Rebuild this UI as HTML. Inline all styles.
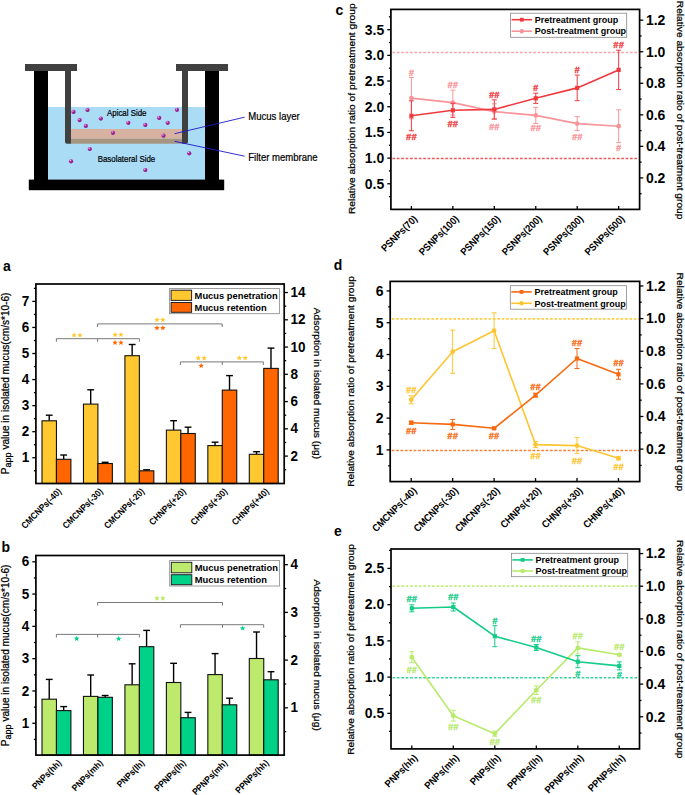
<!DOCTYPE html>
<html><head><meta charset="utf-8"><style>html,body{margin:0;padding:0;background:#fff;}svg{display:block;}text{font-family:"Liberation Sans",sans-serif;}</style></head><body>
<svg width="685" height="795" viewBox="0 0 685 795" font-family="Liberation Sans, sans-serif">
<rect x="0.00" y="0.00" width="685.00" height="795.00" fill="#fff"/>
<rect x="48.00" y="107.00" width="157.00" height="73.00" fill="#aadcf5"/>
<rect x="71.00" y="129.00" width="111.00" height="9.80" fill="#d8b2a1"/>
<rect x="71.00" y="138.80" width="111.00" height="4.90" fill="#a69580"/>
<rect x="34.00" y="71.00" width="14.00" height="109.50" fill="#000"/>
<rect x="205.00" y="71.00" width="14.00" height="109.50" fill="#000"/>
<rect x="28.80" y="179.60" width="195.40" height="10.60" fill="#000"/>
<rect x="25.00" y="64.00" width="52.00" height="7.00" fill="#404040"/>
<rect x="176.00" y="64.00" width="52.00" height="7.00" fill="#404040"/>
<path d="M65,71 H71 V143.7 H67 Q65,143.7 65,141.7 Z" fill="#404040"/>
<path d="M182,71 H188 V141.7 Q188,143.7 186,143.7 H182 Z" fill="#404040"/>
<defs><radialGradient id="pg" cx="0.35" cy="0.3" r="0.75"><stop offset="0" stop-color="#f3d6f0"/><stop offset="0.35" stop-color="#b52aa8"/><stop offset="1" stop-color="#7e0f78"/></radialGradient></defs>
<circle cx="73.5" cy="111.9" r="2.1" fill="url(#pg)"/>
<circle cx="87.5" cy="110" r="2.1" fill="url(#pg)"/>
<circle cx="79.6" cy="120.1" r="2.1" fill="url(#pg)"/>
<circle cx="85.8" cy="125.9" r="2.1" fill="url(#pg)"/>
<circle cx="100.8" cy="118.6" r="2.1" fill="url(#pg)"/>
<circle cx="128.3" cy="122.8" r="2.1" fill="url(#pg)"/>
<circle cx="145.3" cy="124.9" r="2.1" fill="url(#pg)"/>
<circle cx="159.2" cy="117.9" r="2.1" fill="url(#pg)"/>
<circle cx="167.7" cy="122.8" r="2.1" fill="url(#pg)"/>
<circle cx="177" cy="109.8" r="2.1" fill="url(#pg)"/>
<circle cx="112.9" cy="132.8" r="2.1" fill="url(#pg)"/>
<circle cx="163.5" cy="135.7" r="2.1" fill="url(#pg)"/>
<circle cx="89.8" cy="149" r="2.1" fill="url(#pg)"/>
<circle cx="71" cy="161.3" r="2.1" fill="url(#pg)"/>
<circle cx="145.3" cy="170" r="2.1" fill="url(#pg)"/>
<circle cx="189.2" cy="153.3" r="2.1" fill="url(#pg)"/>
<text x="0" y="0" font-size="7.9" text-anchor="start" fill="#000" transform="translate(107.00 115.80) scale(1 1.1)" stroke="#000" stroke-width="0.2">Apical Side</text>
<text x="0" y="0" font-size="7.9" text-anchor="start" fill="#000" transform="translate(97.70 162.20) scale(1 1.1)" stroke="#000" stroke-width="0.2">Basolateral Side</text>
<line x1="174.60" y1="133.70" x2="244.60" y2="117.20" stroke="#1a1ad0" stroke-width="0.9"/>
<line x1="174.60" y1="141.30" x2="244.60" y2="156.20" stroke="#1a1ad0" stroke-width="0.9"/>
<text x="0" y="0" font-size="9.55" text-anchor="start" fill="#000" transform="translate(248.30 120.40) scale(1 1.1)" stroke="#000" stroke-width="0.2">Mucus layer</text>
<text x="0" y="0" font-size="9.55" text-anchor="start" fill="#000" transform="translate(248.30 160.60) scale(1 1.1)" stroke="#000" stroke-width="0.2">Filter membrane</text>
<text x="0" y="0" font-size="14" font-weight="bold" text-anchor="start" fill="#000" transform="translate(335.50 15.00) scale(1 1.1)">c</text>
<text x="0" y="0" font-size="14" font-weight="bold" text-anchor="start" fill="#000" transform="translate(3.00 271.00) scale(1 1.1)">a</text>
<text x="0" y="0" font-size="14" font-weight="bold" text-anchor="start" fill="#000" transform="translate(333.80 269.60) scale(1 1.1)">d</text>
<text x="0" y="0" font-size="14" font-weight="bold" text-anchor="start" fill="#000" transform="translate(1.50 552.30) scale(1 1.1)">b</text>
<text x="0" y="0" font-size="14" font-weight="bold" text-anchor="start" fill="#000" transform="translate(334.10 535.80) scale(1 1.1)">e</text>
<line x1="392.40" y1="52.50" x2="639.60" y2="52.50" stroke="#f9959a" stroke-width="1.3" stroke-dasharray="2.7 1.7" opacity="0.85"/>
<line x1="392.40" y1="158.50" x2="639.60" y2="158.50" stroke="#f03a40" stroke-width="1.3" stroke-dasharray="2.7 1.7" opacity="0.85"/>
<line x1="411.40" y1="77.40" x2="411.40" y2="118.80" stroke="#f9959a" stroke-width="1.0"/>
<line x1="408.90" y1="77.40" x2="413.90" y2="77.40" stroke="#f9959a" stroke-width="1.0"/>
<line x1="408.90" y1="118.80" x2="413.90" y2="118.80" stroke="#f9959a" stroke-width="1.0"/>
<line x1="452.85" y1="90.20" x2="452.85" y2="115.00" stroke="#f9959a" stroke-width="1.0"/>
<line x1="450.35" y1="90.20" x2="455.35" y2="90.20" stroke="#f9959a" stroke-width="1.0"/>
<line x1="450.35" y1="115.00" x2="455.35" y2="115.00" stroke="#f9959a" stroke-width="1.0"/>
<line x1="494.30" y1="103.80" x2="494.30" y2="119.40" stroke="#f9959a" stroke-width="1.0"/>
<line x1="491.80" y1="103.80" x2="496.80" y2="103.80" stroke="#f9959a" stroke-width="1.0"/>
<line x1="491.80" y1="119.40" x2="496.80" y2="119.40" stroke="#f9959a" stroke-width="1.0"/>
<line x1="535.75" y1="107.40" x2="535.75" y2="123.40" stroke="#f9959a" stroke-width="1.0"/>
<line x1="533.25" y1="107.40" x2="538.25" y2="107.40" stroke="#f9959a" stroke-width="1.0"/>
<line x1="533.25" y1="123.40" x2="538.25" y2="123.40" stroke="#f9959a" stroke-width="1.0"/>
<line x1="577.20" y1="116.60" x2="577.20" y2="130.60" stroke="#f9959a" stroke-width="1.0"/>
<line x1="574.70" y1="116.60" x2="579.70" y2="116.60" stroke="#f9959a" stroke-width="1.0"/>
<line x1="574.70" y1="130.60" x2="579.70" y2="130.60" stroke="#f9959a" stroke-width="1.0"/>
<line x1="618.65" y1="109.80" x2="618.65" y2="142.60" stroke="#f9959a" stroke-width="1.0"/>
<line x1="616.15" y1="109.80" x2="621.15" y2="109.80" stroke="#f9959a" stroke-width="1.0"/>
<line x1="616.15" y1="142.60" x2="621.15" y2="142.60" stroke="#f9959a" stroke-width="1.0"/>
<polyline points="411.40,98.10 452.85,102.60 494.30,111.60 535.75,115.40 577.20,123.60 618.65,126.20" fill="none" stroke="#f9959a" stroke-width="1.6" stroke-linejoin="round"/>
<circle cx="411.40" cy="98.10" r="2.40" fill="#f9959a"/>
<circle cx="452.85" cy="102.60" r="2.40" fill="#f9959a"/>
<circle cx="494.30" cy="111.60" r="2.40" fill="#f9959a"/>
<circle cx="535.75" cy="115.40" r="2.40" fill="#f9959a"/>
<circle cx="577.20" cy="123.60" r="2.40" fill="#f9959a"/>
<circle cx="618.65" cy="126.20" r="2.40" fill="#f9959a"/>
<line x1="411.40" y1="100.80" x2="411.40" y2="130.80" stroke="#f03a40" stroke-width="1.0"/>
<line x1="408.90" y1="100.80" x2="413.90" y2="100.80" stroke="#f03a40" stroke-width="1.0"/>
<line x1="408.90" y1="130.80" x2="413.90" y2="130.80" stroke="#f03a40" stroke-width="1.0"/>
<line x1="452.85" y1="103.30" x2="452.85" y2="117.30" stroke="#f03a40" stroke-width="1.0"/>
<line x1="450.35" y1="103.30" x2="455.35" y2="103.30" stroke="#f03a40" stroke-width="1.0"/>
<line x1="450.35" y1="117.30" x2="455.35" y2="117.30" stroke="#f03a40" stroke-width="1.0"/>
<line x1="494.30" y1="99.90" x2="494.30" y2="118.90" stroke="#f03a40" stroke-width="1.0"/>
<line x1="491.80" y1="99.90" x2="496.80" y2="99.90" stroke="#f03a40" stroke-width="1.0"/>
<line x1="491.80" y1="118.90" x2="496.80" y2="118.90" stroke="#f03a40" stroke-width="1.0"/>
<line x1="535.75" y1="93.20" x2="535.75" y2="103.40" stroke="#f03a40" stroke-width="1.0"/>
<line x1="533.25" y1="93.20" x2="538.25" y2="93.20" stroke="#f03a40" stroke-width="1.0"/>
<line x1="533.25" y1="103.40" x2="538.25" y2="103.40" stroke="#f03a40" stroke-width="1.0"/>
<line x1="577.20" y1="75.10" x2="577.20" y2="100.70" stroke="#f03a40" stroke-width="1.0"/>
<line x1="574.70" y1="75.10" x2="579.70" y2="75.10" stroke="#f03a40" stroke-width="1.0"/>
<line x1="574.70" y1="100.70" x2="579.70" y2="100.70" stroke="#f03a40" stroke-width="1.0"/>
<line x1="618.65" y1="50.20" x2="618.65" y2="89.60" stroke="#f03a40" stroke-width="1.0"/>
<line x1="616.15" y1="50.20" x2="621.15" y2="50.20" stroke="#f03a40" stroke-width="1.0"/>
<line x1="616.15" y1="89.60" x2="621.15" y2="89.60" stroke="#f03a40" stroke-width="1.0"/>
<polyline points="411.40,115.80 452.85,110.30 494.30,109.40 535.75,98.30 577.20,87.90 618.65,69.90" fill="none" stroke="#f03a40" stroke-width="1.6" stroke-linejoin="round"/>
<rect x="409.30" y="113.70" width="4.20" height="4.20" fill="#f03a40"/>
<rect x="450.75" y="108.20" width="4.20" height="4.20" fill="#f03a40"/>
<rect x="492.20" y="107.30" width="4.20" height="4.20" fill="#f03a40"/>
<rect x="533.65" y="96.20" width="4.20" height="4.20" fill="#f03a40"/>
<rect x="575.10" y="85.80" width="4.20" height="4.20" fill="#f03a40"/>
<rect x="616.55" y="67.80" width="4.20" height="4.20" fill="#f03a40"/>
<text x="411.40" y="139.62" font-size="9.0" font-weight="bold" font-style="italic" text-anchor="middle" fill="#f03a40" stroke="#f03a40" stroke-width="0.35" letter-spacing="0.3">##</text>
<text x="452.85" y="126.52" font-size="9.0" font-weight="bold" font-style="italic" text-anchor="middle" fill="#f03a40" stroke="#f03a40" stroke-width="0.35" letter-spacing="0.3">##</text>
<text x="494.30" y="98.22" font-size="9.0" font-weight="bold" font-style="italic" text-anchor="middle" fill="#f03a40" stroke="#f03a40" stroke-width="0.35" letter-spacing="0.3">##</text>
<text x="535.75" y="90.92" font-size="9.0" font-weight="bold" font-style="italic" text-anchor="middle" fill="#f03a40" stroke="#f03a40" stroke-width="0.35" letter-spacing="0.3">#</text>
<text x="577.20" y="73.32" font-size="9.0" font-weight="bold" font-style="italic" text-anchor="middle" fill="#f03a40" stroke="#f03a40" stroke-width="0.35" letter-spacing="0.3">#</text>
<text x="618.65" y="48.22" font-size="9.0" font-weight="bold" font-style="italic" text-anchor="middle" fill="#f03a40" stroke="#f03a40" stroke-width="0.35" letter-spacing="0.3">##</text>
<text x="411.40" y="75.72" font-size="9.0" font-weight="bold" font-style="italic" text-anchor="middle" fill="#f9959a" stroke="#f9959a" stroke-width="0.35" letter-spacing="0.3">#</text>
<text x="452.85" y="88.12" font-size="9.0" font-weight="bold" font-style="italic" text-anchor="middle" fill="#f9959a" stroke="#f9959a" stroke-width="0.35" letter-spacing="0.3">##</text>
<text x="494.30" y="129.62" font-size="9.0" font-weight="bold" font-style="italic" text-anchor="middle" fill="#f9959a" stroke="#f9959a" stroke-width="0.35" letter-spacing="0.3">##</text>
<text x="535.75" y="131.12" font-size="9.0" font-weight="bold" font-style="italic" text-anchor="middle" fill="#f9959a" stroke="#f9959a" stroke-width="0.35" letter-spacing="0.3">##</text>
<text x="577.20" y="140.32" font-size="9.0" font-weight="bold" font-style="italic" text-anchor="middle" fill="#f9959a" stroke="#f9959a" stroke-width="0.35" letter-spacing="0.3">##</text>
<text x="618.65" y="151.12" font-size="9.0" font-weight="bold" font-style="italic" text-anchor="middle" fill="#f9959a" stroke="#f9959a" stroke-width="0.35" letter-spacing="0.3">#</text>
<rect x="390.90" y="9.40" width="248.70" height="200.00" fill="none" stroke="#000" stroke-width="1.7"/>
<line x1="387.30" y1="183.78" x2="390.90" y2="183.78" stroke="#000" stroke-width="1.3"/>
<text x="0" y="5.01" font-size="14" font-weight="bold" text-anchor="end" transform="translate(384.20 183.09) scale(1 1.1)">0.5</text>
<line x1="387.30" y1="158.10" x2="390.90" y2="158.10" stroke="#000" stroke-width="1.3"/>
<text x="0" y="5.01" font-size="14" font-weight="bold" text-anchor="end" transform="translate(384.20 157.40) scale(1 1.1)">1.0</text>
<line x1="387.30" y1="132.42" x2="390.90" y2="132.42" stroke="#000" stroke-width="1.3"/>
<text x="0" y="5.01" font-size="14" font-weight="bold" text-anchor="end" transform="translate(384.20 131.72) scale(1 1.1)">1.5</text>
<line x1="387.30" y1="106.73" x2="390.90" y2="106.73" stroke="#000" stroke-width="1.3"/>
<text x="0" y="5.01" font-size="14" font-weight="bold" text-anchor="end" transform="translate(384.20 106.03) scale(1 1.1)">2.0</text>
<line x1="387.30" y1="81.05" x2="390.90" y2="81.05" stroke="#000" stroke-width="1.3"/>
<text x="0" y="5.01" font-size="14" font-weight="bold" text-anchor="end" transform="translate(384.20 80.35) scale(1 1.1)">2.5</text>
<line x1="387.30" y1="55.36" x2="390.90" y2="55.36" stroke="#000" stroke-width="1.3"/>
<text x="0" y="5.01" font-size="14" font-weight="bold" text-anchor="end" transform="translate(384.20 54.66) scale(1 1.1)">3.0</text>
<line x1="387.30" y1="29.68" x2="390.90" y2="29.68" stroke="#000" stroke-width="1.3"/>
<text x="0" y="5.01" font-size="14" font-weight="bold" text-anchor="end" transform="translate(384.20 28.98) scale(1 1.1)">3.5</text>
<line x1="388.90" y1="196.63" x2="390.90" y2="196.63" stroke="#000" stroke-width="1.3"/>
<line x1="388.90" y1="170.94" x2="390.90" y2="170.94" stroke="#000" stroke-width="1.3"/>
<line x1="388.90" y1="145.26" x2="390.90" y2="145.26" stroke="#000" stroke-width="1.3"/>
<line x1="388.90" y1="119.57" x2="390.90" y2="119.57" stroke="#000" stroke-width="1.3"/>
<line x1="388.90" y1="93.89" x2="390.90" y2="93.89" stroke="#000" stroke-width="1.3"/>
<line x1="388.90" y1="68.20" x2="390.90" y2="68.20" stroke="#000" stroke-width="1.3"/>
<line x1="388.90" y1="42.52" x2="390.90" y2="42.52" stroke="#000" stroke-width="1.3"/>
<line x1="388.90" y1="16.83" x2="390.90" y2="16.83" stroke="#000" stroke-width="1.3"/>
<line x1="639.60" y1="177.92" x2="643.30" y2="177.92" stroke="#000" stroke-width="1.3"/>
<text x="0" y="5.01" font-size="14" font-weight="bold" text-anchor="start" transform="translate(645.90 177.22) scale(1 1.1)">0.2</text>
<line x1="639.60" y1="146.37" x2="643.30" y2="146.37" stroke="#000" stroke-width="1.3"/>
<text x="0" y="5.01" font-size="14" font-weight="bold" text-anchor="start" transform="translate(645.90 145.67) scale(1 1.1)">0.4</text>
<line x1="639.60" y1="114.82" x2="643.30" y2="114.82" stroke="#000" stroke-width="1.3"/>
<text x="0" y="5.01" font-size="14" font-weight="bold" text-anchor="start" transform="translate(645.90 114.12) scale(1 1.1)">0.6</text>
<line x1="639.60" y1="83.27" x2="643.30" y2="83.27" stroke="#000" stroke-width="1.3"/>
<text x="0" y="5.01" font-size="14" font-weight="bold" text-anchor="start" transform="translate(645.90 82.57) scale(1 1.1)">0.8</text>
<line x1="639.60" y1="51.72" x2="643.30" y2="51.72" stroke="#000" stroke-width="1.3"/>
<text x="0" y="5.01" font-size="14" font-weight="bold" text-anchor="start" transform="translate(645.90 51.02) scale(1 1.1)">1.0</text>
<line x1="639.60" y1="20.17" x2="643.30" y2="20.17" stroke="#000" stroke-width="1.3"/>
<text x="0" y="5.01" font-size="14" font-weight="bold" text-anchor="start" transform="translate(645.90 19.47) scale(1 1.1)">1.2</text>
<line x1="639.60" y1="193.69" x2="641.60" y2="193.69" stroke="#000" stroke-width="1.3"/>
<line x1="639.60" y1="162.15" x2="641.60" y2="162.15" stroke="#000" stroke-width="1.3"/>
<line x1="639.60" y1="130.59" x2="641.60" y2="130.59" stroke="#000" stroke-width="1.3"/>
<line x1="639.60" y1="99.05" x2="641.60" y2="99.05" stroke="#000" stroke-width="1.3"/>
<line x1="639.60" y1="67.50" x2="641.60" y2="67.50" stroke="#000" stroke-width="1.3"/>
<line x1="639.60" y1="35.94" x2="641.60" y2="35.94" stroke="#000" stroke-width="1.3"/>
<line x1="411.40" y1="205.90" x2="411.40" y2="209.40" stroke="#000" stroke-width="1.3"/>
<line x1="452.85" y1="205.90" x2="452.85" y2="209.40" stroke="#000" stroke-width="1.3"/>
<line x1="494.30" y1="205.90" x2="494.30" y2="209.40" stroke="#000" stroke-width="1.3"/>
<line x1="535.75" y1="205.90" x2="535.75" y2="209.40" stroke="#000" stroke-width="1.3"/>
<line x1="577.20" y1="205.90" x2="577.20" y2="209.40" stroke="#000" stroke-width="1.3"/>
<line x1="618.65" y1="205.90" x2="618.65" y2="209.40" stroke="#000" stroke-width="1.3"/>
<text x="0" y="0" font-size="9.2" font-weight="bold" text-anchor="end" fill="#000" transform="translate(418.00 219.50) rotate(-45) scale(1 1.1)">PSNPs(70)</text>
<text x="0" y="0" font-size="9.2" font-weight="bold" text-anchor="end" fill="#000" transform="translate(459.45 219.50) rotate(-45) scale(1 1.1)">PSNPs(100)</text>
<text x="0" y="0" font-size="9.2" font-weight="bold" text-anchor="end" fill="#000" transform="translate(500.90 219.50) rotate(-45) scale(1 1.1)">PSNPs(150)</text>
<text x="0" y="0" font-size="9.2" font-weight="bold" text-anchor="end" fill="#000" transform="translate(542.35 219.50) rotate(-45) scale(1 1.1)">PSNPs(200)</text>
<text x="0" y="0" font-size="9.2" font-weight="bold" text-anchor="end" fill="#000" transform="translate(583.80 219.50) rotate(-45) scale(1 1.1)">PSNPs(300)</text>
<text x="0" y="0" font-size="9.2" font-weight="bold" text-anchor="end" fill="#000" transform="translate(625.25 219.50) rotate(-45) scale(1 1.1)">PSNPs(500)</text>
<rect x="510.60" y="13.20" width="116.10" height="24.10" fill="#fff" stroke="#888" stroke-width="0.8"/>
<line x1="511.60" y1="19.70" x2="532.10" y2="19.70" stroke="#f03a40" stroke-width="1.6"/>
<rect x="519.90" y="17.80" width="3.80" height="3.80" fill="#f03a40"/>
<text x="0" y="0" font-size="9" font-weight="bold" text-anchor="start" fill="#000" transform="translate(534.70 22.94) scale(1 1.05)">Pretreatment group</text>
<line x1="511.60" y1="31.20" x2="532.10" y2="31.20" stroke="#f9959a" stroke-width="1.6"/>
<circle cx="521.80" cy="31.20" r="2.2" fill="#f9959a"/>
<text x="0" y="0" font-size="9" font-weight="bold" text-anchor="start" fill="#000" transform="translate(534.70 34.44) scale(1 1.05)">Post-treatment group</text>
<text x="0" y="0" font-size="10.2" text-anchor="middle" fill="#000" transform="translate(354.50 108.75) rotate(-90) scale(1 0.95)" stroke="#000" stroke-width="0.25">Relative absorption ratio of pretreatment group</text>
<text x="0" y="0" font-size="10.2" text-anchor="middle" fill="#000" transform="translate(677.20 110.10) rotate(90) scale(1 0.95)" stroke="#000" stroke-width="0.25">Relative absorption ratio of post-treatment group</text>
<line x1="391.70" y1="318.90" x2="639.70" y2="318.90" stroke="#fcc632" stroke-width="1.6" stroke-dasharray="2.7 1.7" opacity="0.85"/>
<line x1="391.70" y1="450.40" x2="639.70" y2="450.40" stroke="#f86a10" stroke-width="1.5" stroke-dasharray="2.7 1.7" opacity="0.85"/>
<line x1="411.20" y1="395.80" x2="411.20" y2="403.80" stroke="#fcc632" stroke-width="1.0"/>
<line x1="408.70" y1="395.80" x2="413.70" y2="395.80" stroke="#fcc632" stroke-width="1.0"/>
<line x1="408.70" y1="403.80" x2="413.70" y2="403.80" stroke="#fcc632" stroke-width="1.0"/>
<line x1="452.65" y1="330.10" x2="452.65" y2="373.30" stroke="#fcc632" stroke-width="1.0"/>
<line x1="450.15" y1="330.10" x2="455.15" y2="330.10" stroke="#fcc632" stroke-width="1.0"/>
<line x1="450.15" y1="373.30" x2="455.15" y2="373.30" stroke="#fcc632" stroke-width="1.0"/>
<line x1="494.10" y1="312.80" x2="494.10" y2="348.60" stroke="#fcc632" stroke-width="1.0"/>
<line x1="491.60" y1="312.80" x2="496.60" y2="312.80" stroke="#fcc632" stroke-width="1.0"/>
<line x1="491.60" y1="348.60" x2="496.60" y2="348.60" stroke="#fcc632" stroke-width="1.0"/>
<line x1="535.55" y1="441.60" x2="535.55" y2="447.60" stroke="#fcc632" stroke-width="1.0"/>
<line x1="533.05" y1="441.60" x2="538.05" y2="441.60" stroke="#fcc632" stroke-width="1.0"/>
<line x1="533.05" y1="447.60" x2="538.05" y2="447.60" stroke="#fcc632" stroke-width="1.0"/>
<line x1="577.00" y1="437.60" x2="577.00" y2="453.60" stroke="#fcc632" stroke-width="1.0"/>
<line x1="574.50" y1="437.60" x2="579.50" y2="437.60" stroke="#fcc632" stroke-width="1.0"/>
<line x1="574.50" y1="453.60" x2="579.50" y2="453.60" stroke="#fcc632" stroke-width="1.0"/>
<line x1="618.45" y1="456.80" x2="618.45" y2="459.80" stroke="#fcc632" stroke-width="1.0"/>
<line x1="615.95" y1="456.80" x2="620.95" y2="456.80" stroke="#fcc632" stroke-width="1.0"/>
<line x1="615.95" y1="459.80" x2="620.95" y2="459.80" stroke="#fcc632" stroke-width="1.0"/>
<polyline points="411.20,399.80 452.65,351.70 494.10,330.70 535.55,444.60 577.00,445.60 618.45,458.30" fill="none" stroke="#fcc632" stroke-width="1.6" stroke-linejoin="round"/>
<circle cx="411.20" cy="399.80" r="2.40" fill="#fcc632"/>
<circle cx="452.65" cy="351.70" r="2.40" fill="#fcc632"/>
<circle cx="494.10" cy="330.70" r="2.40" fill="#fcc632"/>
<circle cx="535.55" cy="444.60" r="2.40" fill="#fcc632"/>
<circle cx="577.00" cy="445.60" r="2.40" fill="#fcc632"/>
<circle cx="618.45" cy="458.30" r="2.40" fill="#fcc632"/>
<line x1="411.20" y1="421.20" x2="411.20" y2="424.20" stroke="#f86a10" stroke-width="1.0"/>
<line x1="408.70" y1="421.20" x2="413.70" y2="421.20" stroke="#f86a10" stroke-width="1.0"/>
<line x1="408.70" y1="424.20" x2="413.70" y2="424.20" stroke="#f86a10" stroke-width="1.0"/>
<line x1="452.65" y1="419.40" x2="452.65" y2="429.40" stroke="#f86a10" stroke-width="1.0"/>
<line x1="450.15" y1="419.40" x2="455.15" y2="419.40" stroke="#f86a10" stroke-width="1.0"/>
<line x1="450.15" y1="429.40" x2="455.15" y2="429.40" stroke="#f86a10" stroke-width="1.0"/>
<line x1="494.10" y1="427.30" x2="494.10" y2="429.30" stroke="#f86a10" stroke-width="1.0"/>
<line x1="491.60" y1="427.30" x2="496.60" y2="427.30" stroke="#f86a10" stroke-width="1.0"/>
<line x1="491.60" y1="429.30" x2="496.60" y2="429.30" stroke="#f86a10" stroke-width="1.0"/>
<line x1="535.55" y1="393.20" x2="535.55" y2="397.20" stroke="#f86a10" stroke-width="1.0"/>
<line x1="533.05" y1="393.20" x2="538.05" y2="393.20" stroke="#f86a10" stroke-width="1.0"/>
<line x1="533.05" y1="397.20" x2="538.05" y2="397.20" stroke="#f86a10" stroke-width="1.0"/>
<line x1="577.00" y1="348.50" x2="577.00" y2="368.50" stroke="#f86a10" stroke-width="1.0"/>
<line x1="574.50" y1="348.50" x2="579.50" y2="348.50" stroke="#f86a10" stroke-width="1.0"/>
<line x1="574.50" y1="368.50" x2="579.50" y2="368.50" stroke="#f86a10" stroke-width="1.0"/>
<line x1="618.45" y1="369.30" x2="618.45" y2="379.30" stroke="#f86a10" stroke-width="1.0"/>
<line x1="615.95" y1="369.30" x2="620.95" y2="369.30" stroke="#f86a10" stroke-width="1.0"/>
<line x1="615.95" y1="379.30" x2="620.95" y2="379.30" stroke="#f86a10" stroke-width="1.0"/>
<polyline points="411.20,422.70 452.65,424.40 494.10,428.30 535.55,395.20 577.00,358.50 618.45,374.30" fill="none" stroke="#f86a10" stroke-width="1.6" stroke-linejoin="round"/>
<rect x="409.10" y="420.60" width="4.20" height="4.20" fill="#f86a10"/>
<rect x="450.55" y="422.30" width="4.20" height="4.20" fill="#f86a10"/>
<rect x="492.00" y="426.20" width="4.20" height="4.20" fill="#f86a10"/>
<rect x="533.45" y="393.10" width="4.20" height="4.20" fill="#f86a10"/>
<rect x="574.90" y="356.40" width="4.20" height="4.20" fill="#f86a10"/>
<rect x="616.35" y="372.20" width="4.20" height="4.20" fill="#f86a10"/>
<text x="411.20" y="433.82" font-size="9.0" font-weight="bold" font-style="italic" text-anchor="middle" fill="#f86a10" stroke="#f86a10" stroke-width="0.35" letter-spacing="0.3">##</text>
<text x="452.65" y="439.02" font-size="9.0" font-weight="bold" font-style="italic" text-anchor="middle" fill="#f86a10" stroke="#f86a10" stroke-width="0.35" letter-spacing="0.3">##</text>
<text x="494.10" y="439.02" font-size="9.0" font-weight="bold" font-style="italic" text-anchor="middle" fill="#f86a10" stroke="#f86a10" stroke-width="0.35" letter-spacing="0.3">##</text>
<text x="535.55" y="390.02" font-size="9.0" font-weight="bold" font-style="italic" text-anchor="middle" fill="#f86a10" stroke="#f86a10" stroke-width="0.35" letter-spacing="0.3">##</text>
<text x="577.00" y="346.02" font-size="9.0" font-weight="bold" font-style="italic" text-anchor="middle" fill="#f86a10" stroke="#f86a10" stroke-width="0.35" letter-spacing="0.3">##</text>
<text x="618.45" y="366.42" font-size="9.0" font-weight="bold" font-style="italic" text-anchor="middle" fill="#f86a10" stroke="#f86a10" stroke-width="0.35" letter-spacing="0.3">##</text>
<text x="411.20" y="393.12" font-size="9.0" font-weight="bold" font-style="italic" text-anchor="middle" fill="#fcc632" stroke="#fcc632" stroke-width="0.35" letter-spacing="0.3">##</text>
<text x="535.55" y="458.92" font-size="9.0" font-weight="bold" font-style="italic" text-anchor="middle" fill="#fcc632" stroke="#fcc632" stroke-width="0.35" letter-spacing="0.3">##</text>
<text x="577.00" y="463.62" font-size="9.0" font-weight="bold" font-style="italic" text-anchor="middle" fill="#fcc632" stroke="#fcc632" stroke-width="0.35" letter-spacing="0.3">##</text>
<text x="618.45" y="470.22" font-size="9.0" font-weight="bold" font-style="italic" text-anchor="middle" fill="#fcc632" stroke="#fcc632" stroke-width="0.35" letter-spacing="0.3">##</text>
<rect x="390.20" y="281.40" width="249.50" height="200.20" fill="none" stroke="#000" stroke-width="1.7"/>
<line x1="386.60" y1="449.92" x2="390.20" y2="449.92" stroke="#000" stroke-width="1.3"/>
<text x="0" y="5.01" font-size="14" font-weight="bold" text-anchor="end" transform="translate(383.50 449.22) scale(1 1.1)">1</text>
<line x1="386.60" y1="418.12" x2="390.20" y2="418.12" stroke="#000" stroke-width="1.3"/>
<text x="0" y="5.01" font-size="14" font-weight="bold" text-anchor="end" transform="translate(383.50 417.42) scale(1 1.1)">2</text>
<line x1="386.60" y1="386.32" x2="390.20" y2="386.32" stroke="#000" stroke-width="1.3"/>
<text x="0" y="5.01" font-size="14" font-weight="bold" text-anchor="end" transform="translate(383.50 385.62) scale(1 1.1)">3</text>
<line x1="386.60" y1="354.52" x2="390.20" y2="354.52" stroke="#000" stroke-width="1.3"/>
<text x="0" y="5.01" font-size="14" font-weight="bold" text-anchor="end" transform="translate(383.50 353.82) scale(1 1.1)">4</text>
<line x1="386.60" y1="322.72" x2="390.20" y2="322.72" stroke="#000" stroke-width="1.3"/>
<text x="0" y="5.01" font-size="14" font-weight="bold" text-anchor="end" transform="translate(383.50 322.02) scale(1 1.1)">5</text>
<line x1="386.60" y1="290.92" x2="390.20" y2="290.92" stroke="#000" stroke-width="1.3"/>
<text x="0" y="5.01" font-size="14" font-weight="bold" text-anchor="end" transform="translate(383.50 290.22) scale(1 1.1)">6</text>
<line x1="388.20" y1="465.82" x2="390.20" y2="465.82" stroke="#000" stroke-width="1.3"/>
<line x1="388.20" y1="434.02" x2="390.20" y2="434.02" stroke="#000" stroke-width="1.3"/>
<line x1="388.20" y1="402.22" x2="390.20" y2="402.22" stroke="#000" stroke-width="1.3"/>
<line x1="388.20" y1="370.42" x2="390.20" y2="370.42" stroke="#000" stroke-width="1.3"/>
<line x1="388.20" y1="338.62" x2="390.20" y2="338.62" stroke="#000" stroke-width="1.3"/>
<line x1="388.20" y1="306.82" x2="390.20" y2="306.82" stroke="#000" stroke-width="1.3"/>
<line x1="639.70" y1="449.12" x2="643.40" y2="449.12" stroke="#000" stroke-width="1.3"/>
<text x="0" y="5.01" font-size="14" font-weight="bold" text-anchor="start" transform="translate(646.00 448.42) scale(1 1.1)">0.2</text>
<line x1="639.70" y1="416.49" x2="643.40" y2="416.49" stroke="#000" stroke-width="1.3"/>
<text x="0" y="5.01" font-size="14" font-weight="bold" text-anchor="start" transform="translate(646.00 415.79) scale(1 1.1)">0.4</text>
<line x1="639.70" y1="383.86" x2="643.40" y2="383.86" stroke="#000" stroke-width="1.3"/>
<text x="0" y="5.01" font-size="14" font-weight="bold" text-anchor="start" transform="translate(646.00 383.16) scale(1 1.1)">0.6</text>
<line x1="639.70" y1="351.23" x2="643.40" y2="351.23" stroke="#000" stroke-width="1.3"/>
<text x="0" y="5.01" font-size="14" font-weight="bold" text-anchor="start" transform="translate(646.00 350.53) scale(1 1.1)">0.8</text>
<line x1="639.70" y1="318.60" x2="643.40" y2="318.60" stroke="#000" stroke-width="1.3"/>
<text x="0" y="5.01" font-size="14" font-weight="bold" text-anchor="start" transform="translate(646.00 317.90) scale(1 1.1)">1.0</text>
<line x1="639.70" y1="285.97" x2="643.40" y2="285.97" stroke="#000" stroke-width="1.3"/>
<text x="0" y="5.01" font-size="14" font-weight="bold" text-anchor="start" transform="translate(646.00 285.27) scale(1 1.1)">1.2</text>
<line x1="639.70" y1="465.44" x2="641.70" y2="465.44" stroke="#000" stroke-width="1.3"/>
<line x1="639.70" y1="432.81" x2="641.70" y2="432.81" stroke="#000" stroke-width="1.3"/>
<line x1="639.70" y1="400.18" x2="641.70" y2="400.18" stroke="#000" stroke-width="1.3"/>
<line x1="639.70" y1="367.55" x2="641.70" y2="367.55" stroke="#000" stroke-width="1.3"/>
<line x1="639.70" y1="334.91" x2="641.70" y2="334.91" stroke="#000" stroke-width="1.3"/>
<line x1="639.70" y1="302.28" x2="641.70" y2="302.28" stroke="#000" stroke-width="1.3"/>
<line x1="411.20" y1="478.10" x2="411.20" y2="481.60" stroke="#000" stroke-width="1.3"/>
<line x1="452.65" y1="478.10" x2="452.65" y2="481.60" stroke="#000" stroke-width="1.3"/>
<line x1="494.10" y1="478.10" x2="494.10" y2="481.60" stroke="#000" stroke-width="1.3"/>
<line x1="535.55" y1="478.10" x2="535.55" y2="481.60" stroke="#000" stroke-width="1.3"/>
<line x1="577.00" y1="478.10" x2="577.00" y2="481.60" stroke="#000" stroke-width="1.3"/>
<line x1="618.45" y1="478.10" x2="618.45" y2="481.60" stroke="#000" stroke-width="1.3"/>
<text x="0" y="0" font-size="9.2" font-weight="bold" text-anchor="end" fill="#000" transform="translate(417.40 491.40) rotate(-45) scale(1 1.1)">CMCNPs(-40)</text>
<text x="0" y="0" font-size="9.2" font-weight="bold" text-anchor="end" fill="#000" transform="translate(458.85 491.40) rotate(-45) scale(1 1.1)">CMCNPs(-30)</text>
<text x="0" y="0" font-size="9.2" font-weight="bold" text-anchor="end" fill="#000" transform="translate(500.30 491.40) rotate(-45) scale(1 1.1)">CMCNPs(-20)</text>
<text x="0" y="0" font-size="9.2" font-weight="bold" text-anchor="end" fill="#000" transform="translate(541.75 491.40) rotate(-45) scale(1 1.1)">CHNPs(+20)</text>
<text x="0" y="0" font-size="9.2" font-weight="bold" text-anchor="end" fill="#000" transform="translate(583.20 491.40) rotate(-45) scale(1 1.1)">CHNPs(+30)</text>
<text x="0" y="0" font-size="9.2" font-weight="bold" text-anchor="end" fill="#000" transform="translate(624.65 491.40) rotate(-45) scale(1 1.1)">CHNPs(+40)</text>
<rect x="510.30" y="285.70" width="116.10" height="23.50" fill="#fff" stroke="#888" stroke-width="0.8"/>
<line x1="511.30" y1="291.90" x2="531.80" y2="291.90" stroke="#f86a10" stroke-width="1.6"/>
<rect x="519.60" y="290.00" width="3.80" height="3.80" fill="#f86a10"/>
<text x="0" y="0" font-size="9" font-weight="bold" text-anchor="start" fill="#000" transform="translate(534.40 295.14) scale(1 1.05)">Pretreatment group</text>
<line x1="511.30" y1="303.30" x2="531.80" y2="303.30" stroke="#fcc632" stroke-width="1.6"/>
<circle cx="521.50" cy="303.30" r="2.2" fill="#fcc632"/>
<text x="0" y="0" font-size="9" font-weight="bold" text-anchor="start" fill="#000" transform="translate(534.40 306.54) scale(1 1.05)">Post-treatment group</text>
<text x="0" y="0" font-size="10.2" text-anchor="middle" fill="#000" transform="translate(354.20 381.50) rotate(-90) scale(1 0.95)" stroke="#000" stroke-width="0.25">Relative absorption ratio of pretreatment group</text>
<text x="0" y="0" font-size="10.2" text-anchor="middle" fill="#000" transform="translate(677.00 381.90) rotate(90) scale(1 0.95)" stroke="#000" stroke-width="0.25">Relative absorption ratio of post-treatment group</text>
<line x1="392.50" y1="586.10" x2="639.50" y2="586.10" stroke="#b8ea6c" stroke-width="1.7" stroke-dasharray="2.7 1.7" opacity="0.85"/>
<line x1="392.50" y1="677.80" x2="639.50" y2="677.80" stroke="#14cc88" stroke-width="1.6" stroke-dasharray="2.7 1.7" opacity="0.85"/>
<line x1="411.80" y1="651.70" x2="411.80" y2="662.70" stroke="#b8ea6c" stroke-width="1.0"/>
<line x1="409.30" y1="651.70" x2="414.30" y2="651.70" stroke="#b8ea6c" stroke-width="1.0"/>
<line x1="409.30" y1="662.70" x2="414.30" y2="662.70" stroke="#b8ea6c" stroke-width="1.0"/>
<line x1="453.30" y1="710.30" x2="453.30" y2="721.10" stroke="#b8ea6c" stroke-width="1.0"/>
<line x1="450.80" y1="710.30" x2="455.80" y2="710.30" stroke="#b8ea6c" stroke-width="1.0"/>
<line x1="450.80" y1="721.10" x2="455.80" y2="721.10" stroke="#b8ea6c" stroke-width="1.0"/>
<line x1="494.80" y1="731.20" x2="494.80" y2="736.20" stroke="#b8ea6c" stroke-width="1.0"/>
<line x1="492.30" y1="731.20" x2="497.30" y2="731.20" stroke="#b8ea6c" stroke-width="1.0"/>
<line x1="492.30" y1="736.20" x2="497.30" y2="736.20" stroke="#b8ea6c" stroke-width="1.0"/>
<line x1="536.30" y1="685.90" x2="536.30" y2="694.50" stroke="#b8ea6c" stroke-width="1.0"/>
<line x1="533.80" y1="685.90" x2="538.80" y2="685.90" stroke="#b8ea6c" stroke-width="1.0"/>
<line x1="533.80" y1="694.50" x2="538.80" y2="694.50" stroke="#b8ea6c" stroke-width="1.0"/>
<line x1="577.80" y1="641.90" x2="577.80" y2="653.90" stroke="#b8ea6c" stroke-width="1.0"/>
<line x1="575.30" y1="641.90" x2="580.30" y2="641.90" stroke="#b8ea6c" stroke-width="1.0"/>
<line x1="575.30" y1="653.90" x2="580.30" y2="653.90" stroke="#b8ea6c" stroke-width="1.0"/>
<line x1="619.30" y1="653.80" x2="619.30" y2="655.80" stroke="#b8ea6c" stroke-width="1.0"/>
<line x1="616.80" y1="653.80" x2="621.80" y2="653.80" stroke="#b8ea6c" stroke-width="1.0"/>
<line x1="616.80" y1="655.80" x2="621.80" y2="655.80" stroke="#b8ea6c" stroke-width="1.0"/>
<polyline points="411.80,657.20 453.30,715.70 494.80,733.70 536.30,690.20 577.80,647.90 619.30,654.80" fill="none" stroke="#b8ea6c" stroke-width="1.6" stroke-linejoin="round"/>
<circle cx="411.80" cy="657.20" r="2.40" fill="#b8ea6c"/>
<circle cx="453.30" cy="715.70" r="2.40" fill="#b8ea6c"/>
<circle cx="494.80" cy="733.70" r="2.40" fill="#b8ea6c"/>
<circle cx="536.30" cy="690.20" r="2.40" fill="#b8ea6c"/>
<circle cx="577.80" cy="647.90" r="2.40" fill="#b8ea6c"/>
<circle cx="619.30" cy="654.80" r="2.40" fill="#b8ea6c"/>
<line x1="411.80" y1="604.80" x2="411.80" y2="611.80" stroke="#14cc88" stroke-width="1.0"/>
<line x1="409.30" y1="604.80" x2="414.30" y2="604.80" stroke="#14cc88" stroke-width="1.0"/>
<line x1="409.30" y1="611.80" x2="414.30" y2="611.80" stroke="#14cc88" stroke-width="1.0"/>
<line x1="453.30" y1="603.00" x2="453.30" y2="611.00" stroke="#14cc88" stroke-width="1.0"/>
<line x1="450.80" y1="603.00" x2="455.80" y2="603.00" stroke="#14cc88" stroke-width="1.0"/>
<line x1="450.80" y1="611.00" x2="455.80" y2="611.00" stroke="#14cc88" stroke-width="1.0"/>
<line x1="494.80" y1="625.70" x2="494.80" y2="646.70" stroke="#14cc88" stroke-width="1.0"/>
<line x1="492.30" y1="625.70" x2="497.30" y2="625.70" stroke="#14cc88" stroke-width="1.0"/>
<line x1="492.30" y1="646.70" x2="497.30" y2="646.70" stroke="#14cc88" stroke-width="1.0"/>
<line x1="536.30" y1="644.50" x2="536.30" y2="650.50" stroke="#14cc88" stroke-width="1.0"/>
<line x1="533.80" y1="644.50" x2="538.80" y2="644.50" stroke="#14cc88" stroke-width="1.0"/>
<line x1="533.80" y1="650.50" x2="538.80" y2="650.50" stroke="#14cc88" stroke-width="1.0"/>
<line x1="577.80" y1="655.70" x2="577.80" y2="667.70" stroke="#14cc88" stroke-width="1.0"/>
<line x1="575.30" y1="655.70" x2="580.30" y2="655.70" stroke="#14cc88" stroke-width="1.0"/>
<line x1="575.30" y1="667.70" x2="580.30" y2="667.70" stroke="#14cc88" stroke-width="1.0"/>
<line x1="619.30" y1="661.90" x2="619.30" y2="669.90" stroke="#14cc88" stroke-width="1.0"/>
<line x1="616.80" y1="661.90" x2="621.80" y2="661.90" stroke="#14cc88" stroke-width="1.0"/>
<line x1="616.80" y1="669.90" x2="621.80" y2="669.90" stroke="#14cc88" stroke-width="1.0"/>
<polyline points="411.80,608.30 453.30,607.00 494.80,636.20 536.30,647.50 577.80,661.70 619.30,665.90" fill="none" stroke="#14cc88" stroke-width="1.6" stroke-linejoin="round"/>
<rect x="409.70" y="606.20" width="4.20" height="4.20" fill="#14cc88"/>
<rect x="451.20" y="604.90" width="4.20" height="4.20" fill="#14cc88"/>
<rect x="492.70" y="634.10" width="4.20" height="4.20" fill="#14cc88"/>
<rect x="534.20" y="645.40" width="4.20" height="4.20" fill="#14cc88"/>
<rect x="575.70" y="659.60" width="4.20" height="4.20" fill="#14cc88"/>
<rect x="617.20" y="663.80" width="4.20" height="4.20" fill="#14cc88"/>
<text x="411.80" y="601.72" font-size="9.0" font-weight="bold" font-style="italic" text-anchor="middle" fill="#14cc88" stroke="#14cc88" stroke-width="0.35" letter-spacing="0.3">##</text>
<text x="453.30" y="600.22" font-size="9.0" font-weight="bold" font-style="italic" text-anchor="middle" fill="#14cc88" stroke="#14cc88" stroke-width="0.35" letter-spacing="0.3">##</text>
<text x="494.80" y="623.72" font-size="9.0" font-weight="bold" font-style="italic" text-anchor="middle" fill="#14cc88" stroke="#14cc88" stroke-width="0.35" letter-spacing="0.3">#</text>
<text x="536.30" y="641.52" font-size="9.0" font-weight="bold" font-style="italic" text-anchor="middle" fill="#14cc88" stroke="#14cc88" stroke-width="0.35" letter-spacing="0.3">##</text>
<text x="577.80" y="677.02" font-size="9.0" font-weight="bold" font-style="italic" text-anchor="middle" fill="#14cc88" stroke="#14cc88" stroke-width="0.35" letter-spacing="0.3">#</text>
<text x="619.30" y="677.62" font-size="9.0" font-weight="bold" font-style="italic" text-anchor="middle" fill="#14cc88" stroke="#14cc88" stroke-width="0.35" letter-spacing="0.3">#</text>
<text x="411.80" y="672.72" font-size="9.0" font-weight="bold" font-style="italic" text-anchor="middle" fill="#b8ea6c" stroke="#b8ea6c" stroke-width="0.35" letter-spacing="0.3">##</text>
<text x="453.30" y="730.32" font-size="9.0" font-weight="bold" font-style="italic" text-anchor="middle" fill="#b8ea6c" stroke="#b8ea6c" stroke-width="0.35" letter-spacing="0.3">##</text>
<text x="494.80" y="745.32" font-size="9.0" font-weight="bold" font-style="italic" text-anchor="middle" fill="#b8ea6c" stroke="#b8ea6c" stroke-width="0.35" letter-spacing="0.3">##</text>
<text x="536.30" y="703.02" font-size="9.0" font-weight="bold" font-style="italic" text-anchor="middle" fill="#b8ea6c" stroke="#b8ea6c" stroke-width="0.35" letter-spacing="0.3">##</text>
<text x="577.80" y="639.42" font-size="9.0" font-weight="bold" font-style="italic" text-anchor="middle" fill="#b8ea6c" stroke="#b8ea6c" stroke-width="0.35" letter-spacing="0.3">##</text>
<text x="619.30" y="649.92" font-size="9.0" font-weight="bold" font-style="italic" text-anchor="middle" fill="#b8ea6c" stroke="#b8ea6c" stroke-width="0.35" letter-spacing="0.3">##</text>
<rect x="391.00" y="549.00" width="248.50" height="199.90" fill="none" stroke="#000" stroke-width="1.7"/>
<line x1="387.40" y1="713.36" x2="391.00" y2="713.36" stroke="#000" stroke-width="1.3"/>
<text x="0" y="5.01" font-size="14" font-weight="bold" text-anchor="end" transform="translate(384.30 712.65) scale(1 1.1)">0.5</text>
<line x1="387.40" y1="677.12" x2="391.00" y2="677.12" stroke="#000" stroke-width="1.3"/>
<text x="0" y="5.01" font-size="14" font-weight="bold" text-anchor="end" transform="translate(384.30 676.42) scale(1 1.1)">1.0</text>
<line x1="387.40" y1="640.88" x2="391.00" y2="640.88" stroke="#000" stroke-width="1.3"/>
<text x="0" y="5.01" font-size="14" font-weight="bold" text-anchor="end" transform="translate(384.30 640.18) scale(1 1.1)">1.5</text>
<line x1="387.40" y1="604.65" x2="391.00" y2="604.65" stroke="#000" stroke-width="1.3"/>
<text x="0" y="5.01" font-size="14" font-weight="bold" text-anchor="end" transform="translate(384.30 603.95) scale(1 1.1)">2.0</text>
<line x1="387.40" y1="568.41" x2="391.00" y2="568.41" stroke="#000" stroke-width="1.3"/>
<text x="0" y="5.01" font-size="14" font-weight="bold" text-anchor="end" transform="translate(384.30 567.71) scale(1 1.1)">2.5</text>
<line x1="389.00" y1="731.47" x2="391.00" y2="731.47" stroke="#000" stroke-width="1.3"/>
<line x1="389.00" y1="695.24" x2="391.00" y2="695.24" stroke="#000" stroke-width="1.3"/>
<line x1="389.00" y1="659.00" x2="391.00" y2="659.00" stroke="#000" stroke-width="1.3"/>
<line x1="389.00" y1="622.77" x2="391.00" y2="622.77" stroke="#000" stroke-width="1.3"/>
<line x1="389.00" y1="586.53" x2="391.00" y2="586.53" stroke="#000" stroke-width="1.3"/>
<line x1="389.00" y1="550.30" x2="391.00" y2="550.30" stroke="#000" stroke-width="1.3"/>
<line x1="639.50" y1="716.76" x2="643.20" y2="716.76" stroke="#000" stroke-width="1.3"/>
<text x="0" y="5.01" font-size="14" font-weight="bold" text-anchor="start" transform="translate(645.80 716.06) scale(1 1.1)">0.2</text>
<line x1="639.50" y1="684.13" x2="643.20" y2="684.13" stroke="#000" stroke-width="1.3"/>
<text x="0" y="5.01" font-size="14" font-weight="bold" text-anchor="start" transform="translate(645.80 683.43) scale(1 1.1)">0.4</text>
<line x1="639.50" y1="651.49" x2="643.20" y2="651.49" stroke="#000" stroke-width="1.3"/>
<text x="0" y="5.01" font-size="14" font-weight="bold" text-anchor="start" transform="translate(645.80 650.79) scale(1 1.1)">0.6</text>
<line x1="639.50" y1="618.86" x2="643.20" y2="618.86" stroke="#000" stroke-width="1.3"/>
<text x="0" y="5.01" font-size="14" font-weight="bold" text-anchor="start" transform="translate(645.80 618.16) scale(1 1.1)">0.8</text>
<line x1="639.50" y1="586.22" x2="643.20" y2="586.22" stroke="#000" stroke-width="1.3"/>
<text x="0" y="5.01" font-size="14" font-weight="bold" text-anchor="start" transform="translate(645.80 585.52) scale(1 1.1)">1.0</text>
<line x1="639.50" y1="553.58" x2="643.20" y2="553.58" stroke="#000" stroke-width="1.3"/>
<text x="0" y="5.01" font-size="14" font-weight="bold" text-anchor="start" transform="translate(645.80 552.88) scale(1 1.1)">1.2</text>
<line x1="639.50" y1="733.08" x2="641.50" y2="733.08" stroke="#000" stroke-width="1.3"/>
<line x1="639.50" y1="700.45" x2="641.50" y2="700.45" stroke="#000" stroke-width="1.3"/>
<line x1="639.50" y1="667.81" x2="641.50" y2="667.81" stroke="#000" stroke-width="1.3"/>
<line x1="639.50" y1="635.17" x2="641.50" y2="635.17" stroke="#000" stroke-width="1.3"/>
<line x1="639.50" y1="602.54" x2="641.50" y2="602.54" stroke="#000" stroke-width="1.3"/>
<line x1="639.50" y1="569.90" x2="641.50" y2="569.90" stroke="#000" stroke-width="1.3"/>
<line x1="411.80" y1="745.40" x2="411.80" y2="748.90" stroke="#000" stroke-width="1.3"/>
<line x1="453.30" y1="745.40" x2="453.30" y2="748.90" stroke="#000" stroke-width="1.3"/>
<line x1="494.80" y1="745.40" x2="494.80" y2="748.90" stroke="#000" stroke-width="1.3"/>
<line x1="536.30" y1="745.40" x2="536.30" y2="748.90" stroke="#000" stroke-width="1.3"/>
<line x1="577.80" y1="745.40" x2="577.80" y2="748.90" stroke="#000" stroke-width="1.3"/>
<line x1="619.30" y1="745.40" x2="619.30" y2="748.90" stroke="#000" stroke-width="1.3"/>
<text x="0" y="0" font-size="9.2" font-weight="bold" text-anchor="end" fill="#000" transform="translate(418.10 758.70) rotate(-45) scale(1 1.1)">PNPs(hh)</text>
<text x="0" y="0" font-size="9.2" font-weight="bold" text-anchor="end" fill="#000" transform="translate(459.60 758.70) rotate(-45) scale(1 1.1)">PNPs(mh)</text>
<text x="0" y="0" font-size="9.2" font-weight="bold" text-anchor="end" fill="#000" transform="translate(501.10 758.70) rotate(-45) scale(1 1.1)">PNPs(lh)</text>
<text x="0" y="0" font-size="9.2" font-weight="bold" text-anchor="end" fill="#000" transform="translate(542.60 758.70) rotate(-45) scale(1 1.1)">PPNPs(lh)</text>
<text x="0" y="0" font-size="9.2" font-weight="bold" text-anchor="end" fill="#000" transform="translate(584.10 758.70) rotate(-45) scale(1 1.1)">PPNPs(mh)</text>
<text x="0" y="0" font-size="9.2" font-weight="bold" text-anchor="end" fill="#000" transform="translate(625.60 758.70) rotate(-45) scale(1 1.1)">PPNPs(hh)</text>
<rect x="511.40" y="553.30" width="116.30" height="23.40" fill="#fff" stroke="#888" stroke-width="0.8"/>
<line x1="512.40" y1="559.90" x2="532.90" y2="559.90" stroke="#14cc88" stroke-width="1.6"/>
<rect x="520.70" y="558.00" width="3.80" height="3.80" fill="#14cc88"/>
<text x="0" y="0" font-size="9" font-weight="bold" text-anchor="start" fill="#000" transform="translate(535.50 563.14) scale(1 1.05)">Pretreatment group</text>
<line x1="512.40" y1="571.00" x2="532.90" y2="571.00" stroke="#b8ea6c" stroke-width="1.6"/>
<circle cx="522.60" cy="571.00" r="2.2" fill="#b8ea6c"/>
<text x="0" y="0" font-size="9" font-weight="bold" text-anchor="start" fill="#000" transform="translate(535.50 574.24) scale(1 1.05)">Post-treatment group</text>
<text x="0" y="0" font-size="10.2" text-anchor="middle" fill="#000" transform="translate(354.30 649.50) rotate(-90) scale(1 0.95)" stroke="#000" stroke-width="0.25">Relative absorption ratio of pretreatment group</text>
<text x="0" y="0" font-size="10.2" text-anchor="middle" fill="#000" transform="translate(677.20 649.20) rotate(90) scale(1 0.95)" stroke="#000" stroke-width="0.25">Relative absorption ratio of post-treatment group</text>
<line x1="49.23" y1="415.20" x2="49.23" y2="420.80" stroke="#000" stroke-width="1.4"/>
<line x1="45.83" y1="415.20" x2="52.62" y2="415.20" stroke="#000" stroke-width="1.4"/>
<rect x="42.00" y="420.80" width="14.45" height="62.70" fill="#ffc830" stroke="#111" stroke-width="1.1"/>
<line x1="63.68" y1="455.00" x2="63.68" y2="459.30" stroke="#000" stroke-width="1.4"/>
<line x1="60.28" y1="455.00" x2="67.08" y2="455.00" stroke="#000" stroke-width="1.4"/>
<rect x="56.45" y="459.30" width="14.45" height="24.20" fill="#ff6600" stroke="#111" stroke-width="1.1"/>
<line x1="90.69" y1="389.80" x2="90.69" y2="404.10" stroke="#000" stroke-width="1.4"/>
<line x1="87.28" y1="389.80" x2="94.09" y2="389.80" stroke="#000" stroke-width="1.4"/>
<rect x="83.46" y="404.10" width="14.45" height="79.40" fill="#ffc830" stroke="#111" stroke-width="1.1"/>
<line x1="105.14" y1="462.30" x2="105.14" y2="463.50" stroke="#000" stroke-width="1.4"/>
<line x1="101.73" y1="462.30" x2="108.54" y2="462.30" stroke="#000" stroke-width="1.4"/>
<rect x="97.91" y="463.50" width="14.45" height="20.00" fill="#ff6600" stroke="#111" stroke-width="1.1"/>
<line x1="132.15" y1="344.50" x2="132.15" y2="355.70" stroke="#000" stroke-width="1.4"/>
<line x1="128.75" y1="344.50" x2="135.55" y2="344.50" stroke="#000" stroke-width="1.4"/>
<rect x="124.92" y="355.70" width="14.45" height="127.80" fill="#ffc830" stroke="#111" stroke-width="1.1"/>
<line x1="146.59" y1="469.80" x2="146.59" y2="470.80" stroke="#000" stroke-width="1.4"/>
<line x1="143.19" y1="469.80" x2="150.00" y2="469.80" stroke="#000" stroke-width="1.4"/>
<rect x="139.37" y="470.80" width="14.45" height="12.70" fill="#ff6600" stroke="#111" stroke-width="1.1"/>
<line x1="173.60" y1="420.70" x2="173.60" y2="430.10" stroke="#000" stroke-width="1.4"/>
<line x1="170.20" y1="420.70" x2="177.00" y2="420.70" stroke="#000" stroke-width="1.4"/>
<rect x="166.38" y="430.10" width="14.45" height="53.40" fill="#ffc830" stroke="#111" stroke-width="1.1"/>
<line x1="188.05" y1="427.20" x2="188.05" y2="433.50" stroke="#000" stroke-width="1.4"/>
<line x1="184.65" y1="427.20" x2="191.45" y2="427.20" stroke="#000" stroke-width="1.4"/>
<rect x="180.83" y="433.50" width="14.45" height="50.00" fill="#ff6600" stroke="#111" stroke-width="1.1"/>
<line x1="215.06" y1="442.20" x2="215.06" y2="445.60" stroke="#000" stroke-width="1.4"/>
<line x1="211.66" y1="442.20" x2="218.47" y2="442.20" stroke="#000" stroke-width="1.4"/>
<rect x="207.84" y="445.60" width="14.45" height="37.90" fill="#ffc830" stroke="#111" stroke-width="1.1"/>
<line x1="229.51" y1="375.60" x2="229.51" y2="390.10" stroke="#000" stroke-width="1.4"/>
<line x1="226.11" y1="375.60" x2="232.91" y2="375.60" stroke="#000" stroke-width="1.4"/>
<rect x="222.29" y="390.10" width="14.45" height="93.40" fill="#ff6600" stroke="#111" stroke-width="1.1"/>
<line x1="256.53" y1="451.70" x2="256.53" y2="454.30" stroke="#000" stroke-width="1.4"/>
<line x1="253.13" y1="451.70" x2="259.93" y2="451.70" stroke="#000" stroke-width="1.4"/>
<rect x="249.30" y="454.30" width="14.45" height="29.20" fill="#ffc830" stroke="#111" stroke-width="1.1"/>
<line x1="270.98" y1="348.10" x2="270.98" y2="368.40" stroke="#000" stroke-width="1.4"/>
<line x1="267.58" y1="348.10" x2="274.38" y2="348.10" stroke="#000" stroke-width="1.4"/>
<rect x="263.75" y="368.40" width="14.45" height="115.10" fill="#ff6600" stroke="#111" stroke-width="1.1"/>
<path d="M56.40,341.80 V338.70 H139.40 V341.80" fill="none" stroke="#6a6a6a" stroke-width="0.9"/>
<line x1="97.60" y1="338.70" x2="97.60" y2="341.80" stroke="#6a6a6a" stroke-width="0.9"/>
<path d="M97.60,327.00 V323.90 H222.20 V327.00" fill="none" stroke="#6a6a6a" stroke-width="0.9"/>
<path d="M180.40,365.00 V361.90 H263.30 V365.00" fill="none" stroke="#6a6a6a" stroke-width="0.9"/>
<line x1="222.30" y1="361.90" x2="222.30" y2="365.00" stroke="#6a6a6a" stroke-width="0.9"/>
<polygon points="74.05,332.44 74.81,334.26 76.77,334.42 75.27,335.70 75.73,337.61 74.05,336.59 72.37,337.61 72.83,335.70 71.33,334.42 73.29,334.26" fill="#ffc830"/>
<polygon points="79.95,332.44 80.71,334.26 82.67,334.42 81.17,335.70 81.63,337.61 79.95,336.59 78.27,337.61 78.73,335.70 77.23,334.42 79.19,334.26" fill="#ffc830"/>
<polygon points="115.05,331.94 115.81,333.76 117.77,333.92 116.27,335.20 116.73,337.11 115.05,336.09 113.37,337.11 113.83,335.20 112.33,333.92 114.29,333.76" fill="#ffc830"/>
<polygon points="120.95,331.94 121.71,333.76 123.67,333.92 122.17,335.20 122.63,337.11 120.95,336.09 119.27,337.11 119.73,335.20 118.23,333.92 120.19,333.76" fill="#ffc830"/>
<polygon points="115.05,339.84 115.81,341.66 117.77,341.82 116.27,343.10 116.73,345.01 115.05,343.99 113.37,345.01 113.83,343.10 112.33,341.82 114.29,341.66" fill="#ff6600"/>
<polygon points="120.95,339.84 121.71,341.66 123.67,341.82 122.17,343.10 122.63,345.01 120.95,343.99 119.27,345.01 119.73,343.10 118.23,341.82 120.19,341.66" fill="#ff6600"/>
<polygon points="156.95,317.04 157.71,318.86 159.67,319.02 158.17,320.30 158.63,322.21 156.95,321.19 155.27,322.21 155.73,320.30 154.23,319.02 156.19,318.86" fill="#ffc830"/>
<polygon points="162.85,317.04 163.61,318.86 165.57,319.02 164.07,320.30 164.53,322.21 162.85,321.19 161.17,322.21 161.63,320.30 160.13,319.02 162.09,318.86" fill="#ffc830"/>
<polygon points="156.95,325.14 157.71,326.96 159.67,327.12 158.17,328.40 158.63,330.31 156.95,329.29 155.27,330.31 155.73,328.40 154.23,327.12 156.19,326.96" fill="#ff6600"/>
<polygon points="162.85,325.14 163.61,326.96 165.57,327.12 164.07,328.40 164.53,330.31 162.85,329.29 161.17,330.31 161.63,328.40 160.13,327.12 162.09,326.96" fill="#ff6600"/>
<polygon points="198.25,355.24 199.01,357.06 200.97,357.22 199.47,358.50 199.93,360.41 198.25,359.39 196.57,360.41 197.03,358.50 195.53,357.22 197.49,357.06" fill="#ffc830"/>
<polygon points="204.15,355.24 204.91,357.06 206.87,357.22 205.37,358.50 205.83,360.41 204.15,359.39 202.47,360.41 202.93,358.50 201.43,357.22 203.39,357.06" fill="#ffc830"/>
<polygon points="201.20,362.94 201.96,364.76 203.92,364.92 202.42,366.20 202.88,368.11 201.20,367.09 199.52,368.11 199.98,366.20 198.48,364.92 200.44,364.76" fill="#ff6600"/>
<polygon points="239.25,355.14 240.01,356.96 241.97,357.12 240.47,358.40 240.93,360.31 239.25,359.29 237.57,360.31 238.03,358.40 236.53,357.12 238.49,356.96" fill="#ffc830"/>
<polygon points="245.15,355.14 245.91,356.96 247.87,357.12 246.37,358.40 246.83,360.31 245.15,359.29 243.47,360.31 243.93,358.40 242.43,357.12 244.39,356.96" fill="#ffc830"/>
<rect x="35.90" y="284.00" width="248.30" height="199.50" fill="none" stroke="#000" stroke-width="1.7"/>
<line x1="32.30" y1="457.76" x2="35.90" y2="457.76" stroke="#000" stroke-width="1.3"/>
<text x="0" y="4.83" font-size="13.5" font-weight="bold" text-anchor="end" transform="translate(29.20 457.06) scale(1 1.1)">1</text>
<line x1="32.30" y1="431.70" x2="35.90" y2="431.70" stroke="#000" stroke-width="1.3"/>
<text x="0" y="4.83" font-size="13.5" font-weight="bold" text-anchor="end" transform="translate(29.20 431.00) scale(1 1.1)">2</text>
<line x1="32.30" y1="405.64" x2="35.90" y2="405.64" stroke="#000" stroke-width="1.3"/>
<text x="0" y="4.83" font-size="13.5" font-weight="bold" text-anchor="end" transform="translate(29.20 404.94) scale(1 1.1)">3</text>
<line x1="32.30" y1="379.58" x2="35.90" y2="379.58" stroke="#000" stroke-width="1.3"/>
<text x="0" y="4.83" font-size="13.5" font-weight="bold" text-anchor="end" transform="translate(29.20 378.88) scale(1 1.1)">4</text>
<line x1="32.30" y1="353.52" x2="35.90" y2="353.52" stroke="#000" stroke-width="1.3"/>
<text x="0" y="4.83" font-size="13.5" font-weight="bold" text-anchor="end" transform="translate(29.20 352.82) scale(1 1.1)">5</text>
<line x1="32.30" y1="327.46" x2="35.90" y2="327.46" stroke="#000" stroke-width="1.3"/>
<text x="0" y="4.83" font-size="13.5" font-weight="bold" text-anchor="end" transform="translate(29.20 326.76) scale(1 1.1)">6</text>
<line x1="32.30" y1="301.40" x2="35.90" y2="301.40" stroke="#000" stroke-width="1.3"/>
<text x="0" y="4.83" font-size="13.5" font-weight="bold" text-anchor="end" transform="translate(29.20 300.70) scale(1 1.1)">7</text>
<line x1="33.90" y1="470.79" x2="35.90" y2="470.79" stroke="#000" stroke-width="1.3"/>
<line x1="33.90" y1="444.73" x2="35.90" y2="444.73" stroke="#000" stroke-width="1.3"/>
<line x1="33.90" y1="418.67" x2="35.90" y2="418.67" stroke="#000" stroke-width="1.3"/>
<line x1="33.90" y1="392.61" x2="35.90" y2="392.61" stroke="#000" stroke-width="1.3"/>
<line x1="33.90" y1="366.55" x2="35.90" y2="366.55" stroke="#000" stroke-width="1.3"/>
<line x1="33.90" y1="340.49" x2="35.90" y2="340.49" stroke="#000" stroke-width="1.3"/>
<line x1="33.90" y1="314.43" x2="35.90" y2="314.43" stroke="#000" stroke-width="1.3"/>
<line x1="33.90" y1="288.37" x2="35.90" y2="288.37" stroke="#000" stroke-width="1.3"/>
<line x1="284.20" y1="456.10" x2="287.90" y2="456.10" stroke="#000" stroke-width="1.3"/>
<text x="0" y="4.83" font-size="13.5" font-weight="bold" text-anchor="start" transform="translate(290.50 455.40) scale(1 1.1)">2</text>
<line x1="284.20" y1="428.84" x2="287.90" y2="428.84" stroke="#000" stroke-width="1.3"/>
<text x="0" y="4.83" font-size="13.5" font-weight="bold" text-anchor="start" transform="translate(290.50 428.14) scale(1 1.1)">4</text>
<line x1="284.20" y1="401.58" x2="287.90" y2="401.58" stroke="#000" stroke-width="1.3"/>
<text x="0" y="4.83" font-size="13.5" font-weight="bold" text-anchor="start" transform="translate(290.50 400.88) scale(1 1.1)">6</text>
<line x1="284.20" y1="374.32" x2="287.90" y2="374.32" stroke="#000" stroke-width="1.3"/>
<text x="0" y="4.83" font-size="13.5" font-weight="bold" text-anchor="start" transform="translate(290.50 373.62) scale(1 1.1)">8</text>
<line x1="284.20" y1="347.06" x2="287.90" y2="347.06" stroke="#000" stroke-width="1.3"/>
<text x="0" y="4.83" font-size="13.5" font-weight="bold" text-anchor="start" transform="translate(290.50 346.36) scale(1 1.1)">10</text>
<line x1="284.20" y1="319.80" x2="287.90" y2="319.80" stroke="#000" stroke-width="1.3"/>
<text x="0" y="4.83" font-size="13.5" font-weight="bold" text-anchor="start" transform="translate(290.50 319.10) scale(1 1.1)">12</text>
<line x1="284.20" y1="292.54" x2="287.90" y2="292.54" stroke="#000" stroke-width="1.3"/>
<text x="0" y="4.83" font-size="13.5" font-weight="bold" text-anchor="start" transform="translate(290.50 291.84) scale(1 1.1)">14</text>
<line x1="284.20" y1="469.73" x2="286.20" y2="469.73" stroke="#000" stroke-width="1.3"/>
<line x1="284.20" y1="442.47" x2="286.20" y2="442.47" stroke="#000" stroke-width="1.3"/>
<line x1="284.20" y1="415.21" x2="286.20" y2="415.21" stroke="#000" stroke-width="1.3"/>
<line x1="284.20" y1="387.95" x2="286.20" y2="387.95" stroke="#000" stroke-width="1.3"/>
<line x1="284.20" y1="360.69" x2="286.20" y2="360.69" stroke="#000" stroke-width="1.3"/>
<line x1="284.20" y1="333.43" x2="286.20" y2="333.43" stroke="#000" stroke-width="1.3"/>
<line x1="284.20" y1="306.17" x2="286.20" y2="306.17" stroke="#000" stroke-width="1.3"/>
<text x="0" y="0" font-size="8.3" font-weight="bold" text-anchor="end" fill="#000" transform="translate(62.05 492.00) rotate(-45) scale(1 1.1)">CMCNPs(-40)</text>
<text x="0" y="0" font-size="8.3" font-weight="bold" text-anchor="end" fill="#000" transform="translate(103.51 492.00) rotate(-45) scale(1 1.1)">CMCNPs(-30)</text>
<text x="0" y="0" font-size="8.3" font-weight="bold" text-anchor="end" fill="#000" transform="translate(144.97 492.00) rotate(-45) scale(1 1.1)">CMCNPs(-20)</text>
<text x="0" y="0" font-size="8.3" font-weight="bold" text-anchor="end" fill="#000" transform="translate(186.43 492.00) rotate(-45) scale(1 1.1)">CHNPs(+20)</text>
<text x="0" y="0" font-size="8.3" font-weight="bold" text-anchor="end" fill="#000" transform="translate(227.89 492.00) rotate(-45) scale(1 1.1)">CHNPs(+30)</text>
<text x="0" y="0" font-size="8.3" font-weight="bold" text-anchor="end" fill="#000" transform="translate(269.35 492.00) rotate(-45) scale(1 1.1)">CHNPs(+40)</text>
<rect x="169.50" y="288.60" width="110.00" height="25.10" fill="#fff" stroke="#888" stroke-width="0.8"/>
<rect x="171.10" y="290.20" width="20.50" height="10.20" fill="#ffc830" stroke="#222" stroke-width="1"/>
<text x="0" y="0" font-size="9.35" font-weight="bold" text-anchor="start" fill="#000" transform="translate(194.60 298.67) scale(1 1.03)">Mucus penetration</text>
<rect x="171.10" y="302.50" width="20.50" height="9.80" fill="#ff6600" stroke="#222" stroke-width="1"/>
<text x="0" y="0" font-size="9.35" font-weight="bold" text-anchor="start" fill="#000" transform="translate(194.60 310.77) scale(1 1.03)">Mucus retention</text>
<text x="0" y="0" font-size="10.1" text-anchor="middle" transform="translate(9.00 383.40) rotate(-90)" stroke="#000" stroke-width="0.25">P<tspan font-size="9.09" dy="2.02">app</tspan><tspan dy="-2.02"> value in isolated mucus(cm/s*10-6)</tspan></text>
<text x="0" y="0" font-size="10.2" text-anchor="middle" fill="#000" transform="translate(314.10 383.40) rotate(90) scale(1 0.95)" stroke="#000" stroke-width="0.25">Adsorption in isolated mucus (μg)</text>
<line x1="49.23" y1="679.40" x2="49.23" y2="699.20" stroke="#000" stroke-width="1.4"/>
<line x1="45.83" y1="679.40" x2="52.62" y2="679.40" stroke="#000" stroke-width="1.4"/>
<rect x="42.00" y="699.20" width="14.45" height="55.90" fill="#bdea6c" stroke="#111" stroke-width="1.1"/>
<line x1="63.68" y1="706.60" x2="63.68" y2="710.60" stroke="#000" stroke-width="1.4"/>
<line x1="60.28" y1="706.60" x2="67.08" y2="706.60" stroke="#000" stroke-width="1.4"/>
<rect x="56.45" y="710.60" width="14.45" height="44.50" fill="#00d188" stroke="#111" stroke-width="1.1"/>
<line x1="90.69" y1="675.00" x2="90.69" y2="696.40" stroke="#000" stroke-width="1.4"/>
<line x1="87.28" y1="675.00" x2="94.09" y2="675.00" stroke="#000" stroke-width="1.4"/>
<rect x="83.46" y="696.40" width="14.45" height="58.70" fill="#bdea6c" stroke="#111" stroke-width="1.1"/>
<line x1="105.14" y1="695.50" x2="105.14" y2="697.30" stroke="#000" stroke-width="1.4"/>
<line x1="101.73" y1="695.50" x2="108.54" y2="695.50" stroke="#000" stroke-width="1.4"/>
<rect x="97.91" y="697.30" width="14.45" height="57.80" fill="#00d188" stroke="#111" stroke-width="1.1"/>
<line x1="132.15" y1="663.80" x2="132.15" y2="684.80" stroke="#000" stroke-width="1.4"/>
<line x1="128.75" y1="663.80" x2="135.55" y2="663.80" stroke="#000" stroke-width="1.4"/>
<rect x="124.92" y="684.80" width="14.45" height="70.30" fill="#bdea6c" stroke="#111" stroke-width="1.1"/>
<line x1="146.59" y1="630.40" x2="146.59" y2="646.70" stroke="#000" stroke-width="1.4"/>
<line x1="143.19" y1="630.40" x2="150.00" y2="630.40" stroke="#000" stroke-width="1.4"/>
<rect x="139.37" y="646.70" width="14.45" height="108.40" fill="#00d188" stroke="#111" stroke-width="1.1"/>
<line x1="173.60" y1="663.30" x2="173.60" y2="682.50" stroke="#000" stroke-width="1.4"/>
<line x1="170.20" y1="663.30" x2="177.00" y2="663.30" stroke="#000" stroke-width="1.4"/>
<rect x="166.38" y="682.50" width="14.45" height="72.60" fill="#bdea6c" stroke="#111" stroke-width="1.1"/>
<line x1="188.05" y1="712.40" x2="188.05" y2="717.70" stroke="#000" stroke-width="1.4"/>
<line x1="184.65" y1="712.40" x2="191.45" y2="712.40" stroke="#000" stroke-width="1.4"/>
<rect x="180.83" y="717.70" width="14.45" height="37.40" fill="#00d188" stroke="#111" stroke-width="1.1"/>
<line x1="215.06" y1="653.60" x2="215.06" y2="674.60" stroke="#000" stroke-width="1.4"/>
<line x1="211.66" y1="653.60" x2="218.47" y2="653.60" stroke="#000" stroke-width="1.4"/>
<rect x="207.84" y="674.60" width="14.45" height="80.50" fill="#bdea6c" stroke="#111" stroke-width="1.1"/>
<line x1="229.51" y1="698.20" x2="229.51" y2="704.80" stroke="#000" stroke-width="1.4"/>
<line x1="226.11" y1="698.20" x2="232.91" y2="698.20" stroke="#000" stroke-width="1.4"/>
<rect x="222.29" y="704.80" width="14.45" height="50.30" fill="#00d188" stroke="#111" stroke-width="1.1"/>
<line x1="256.53" y1="632.00" x2="256.53" y2="658.50" stroke="#000" stroke-width="1.4"/>
<line x1="253.13" y1="632.00" x2="259.93" y2="632.00" stroke="#000" stroke-width="1.4"/>
<rect x="249.30" y="658.50" width="14.45" height="96.60" fill="#bdea6c" stroke="#111" stroke-width="1.1"/>
<line x1="270.98" y1="671.70" x2="270.98" y2="679.80" stroke="#000" stroke-width="1.4"/>
<line x1="267.58" y1="671.70" x2="274.38" y2="671.70" stroke="#000" stroke-width="1.4"/>
<rect x="263.75" y="679.80" width="14.45" height="75.30" fill="#00d188" stroke="#111" stroke-width="1.1"/>
<path d="M56.40,637.50 V634.40 H139.40 V637.50" fill="none" stroke="#6a6a6a" stroke-width="0.9"/>
<line x1="97.60" y1="634.40" x2="97.60" y2="637.50" stroke="#6a6a6a" stroke-width="0.9"/>
<path d="M97.60,605.60 V602.50 H222.50 V605.60" fill="none" stroke="#6a6a6a" stroke-width="0.9"/>
<path d="M180.40,627.80 V624.70 H263.70 V627.80" fill="none" stroke="#6a6a6a" stroke-width="0.9"/>
<line x1="222.50" y1="624.70" x2="222.50" y2="627.80" stroke="#6a6a6a" stroke-width="0.9"/>
<polygon points="76.60,635.74 77.36,637.56 79.32,637.72 77.82,639.00 78.28,640.91 76.60,639.89 74.92,640.91 75.38,639.00 73.88,637.72 75.84,637.56" fill="#00d188"/>
<polygon points="118.70,635.94 119.46,637.76 121.42,637.92 119.92,639.20 120.38,641.11 118.70,640.09 117.02,641.11 117.48,639.20 115.98,637.92 117.94,637.76" fill="#00d188"/>
<polygon points="156.95,595.54 157.71,597.36 159.67,597.52 158.17,598.80 158.63,600.71 156.95,599.69 155.27,600.71 155.73,598.80 154.23,597.52 156.19,597.36" fill="#bdea6c"/>
<polygon points="162.85,595.54 163.61,597.36 165.57,597.52 164.07,598.80 164.53,600.71 162.85,599.69 161.17,600.71 161.63,598.80 160.13,597.52 162.09,597.36" fill="#bdea6c"/>
<polygon points="242.70,625.44 243.46,627.26 245.42,627.42 243.92,628.70 244.38,630.61 242.70,629.59 241.02,630.61 241.48,628.70 239.98,627.42 241.94,627.26" fill="#00d188"/>
<rect x="35.90" y="555.50" width="248.30" height="199.60" fill="none" stroke="#000" stroke-width="1.7"/>
<line x1="32.30" y1="723.25" x2="35.90" y2="723.25" stroke="#000" stroke-width="1.3"/>
<text x="0" y="4.83" font-size="13.5" font-weight="bold" text-anchor="end" transform="translate(29.20 722.55) scale(1 1.1)">1</text>
<line x1="32.30" y1="690.96" x2="35.90" y2="690.96" stroke="#000" stroke-width="1.3"/>
<text x="0" y="4.83" font-size="13.5" font-weight="bold" text-anchor="end" transform="translate(29.20 690.26) scale(1 1.1)">2</text>
<line x1="32.30" y1="658.67" x2="35.90" y2="658.67" stroke="#000" stroke-width="1.3"/>
<text x="0" y="4.83" font-size="13.5" font-weight="bold" text-anchor="end" transform="translate(29.20 657.97) scale(1 1.1)">3</text>
<line x1="32.30" y1="626.38" x2="35.90" y2="626.38" stroke="#000" stroke-width="1.3"/>
<text x="0" y="4.83" font-size="13.5" font-weight="bold" text-anchor="end" transform="translate(29.20 625.68) scale(1 1.1)">4</text>
<line x1="32.30" y1="594.09" x2="35.90" y2="594.09" stroke="#000" stroke-width="1.3"/>
<text x="0" y="4.83" font-size="13.5" font-weight="bold" text-anchor="end" transform="translate(29.20 593.39) scale(1 1.1)">5</text>
<line x1="32.30" y1="561.80" x2="35.90" y2="561.80" stroke="#000" stroke-width="1.3"/>
<text x="0" y="4.83" font-size="13.5" font-weight="bold" text-anchor="end" transform="translate(29.20 561.10) scale(1 1.1)">6</text>
<line x1="33.90" y1="739.39" x2="35.90" y2="739.39" stroke="#000" stroke-width="1.3"/>
<line x1="33.90" y1="707.11" x2="35.90" y2="707.11" stroke="#000" stroke-width="1.3"/>
<line x1="33.90" y1="674.81" x2="35.90" y2="674.81" stroke="#000" stroke-width="1.3"/>
<line x1="33.90" y1="642.52" x2="35.90" y2="642.52" stroke="#000" stroke-width="1.3"/>
<line x1="33.90" y1="610.23" x2="35.90" y2="610.23" stroke="#000" stroke-width="1.3"/>
<line x1="33.90" y1="577.94" x2="35.90" y2="577.94" stroke="#000" stroke-width="1.3"/>
<line x1="284.20" y1="707.83" x2="287.90" y2="707.83" stroke="#000" stroke-width="1.3"/>
<text x="0" y="4.83" font-size="13.5" font-weight="bold" text-anchor="start" transform="translate(290.50 707.13) scale(1 1.1)">1</text>
<line x1="284.20" y1="660.11" x2="287.90" y2="660.11" stroke="#000" stroke-width="1.3"/>
<text x="0" y="4.83" font-size="13.5" font-weight="bold" text-anchor="start" transform="translate(290.50 659.41) scale(1 1.1)">2</text>
<line x1="284.20" y1="612.39" x2="287.90" y2="612.39" stroke="#000" stroke-width="1.3"/>
<text x="0" y="4.83" font-size="13.5" font-weight="bold" text-anchor="start" transform="translate(290.50 611.69) scale(1 1.1)">3</text>
<line x1="284.20" y1="564.67" x2="287.90" y2="564.67" stroke="#000" stroke-width="1.3"/>
<text x="0" y="4.83" font-size="13.5" font-weight="bold" text-anchor="start" transform="translate(290.50 563.97) scale(1 1.1)">4</text>
<line x1="284.20" y1="731.69" x2="286.20" y2="731.69" stroke="#000" stroke-width="1.3"/>
<line x1="284.20" y1="683.97" x2="286.20" y2="683.97" stroke="#000" stroke-width="1.3"/>
<line x1="284.20" y1="636.25" x2="286.20" y2="636.25" stroke="#000" stroke-width="1.3"/>
<line x1="284.20" y1="588.53" x2="286.20" y2="588.53" stroke="#000" stroke-width="1.3"/>
<text x="0" y="0" font-size="8.3" font-weight="bold" text-anchor="end" fill="#000" transform="translate(62.05 763.60) rotate(-45) scale(1 1.1)">PNPs(hh)</text>
<text x="0" y="0" font-size="8.3" font-weight="bold" text-anchor="end" fill="#000" transform="translate(103.51 763.60) rotate(-45) scale(1 1.1)">PNPs(mh)</text>
<text x="0" y="0" font-size="8.3" font-weight="bold" text-anchor="end" fill="#000" transform="translate(144.97 763.60) rotate(-45) scale(1 1.1)">PNPs(lh)</text>
<text x="0" y="0" font-size="8.3" font-weight="bold" text-anchor="end" fill="#000" transform="translate(186.43 763.60) rotate(-45) scale(1 1.1)">PPNPs(lh)</text>
<text x="0" y="0" font-size="8.3" font-weight="bold" text-anchor="end" fill="#000" transform="translate(227.89 763.60) rotate(-45) scale(1 1.1)">PPNPs(mh)</text>
<text x="0" y="0" font-size="8.3" font-weight="bold" text-anchor="end" fill="#000" transform="translate(269.35 763.60) rotate(-45) scale(1 1.1)">PPNPs(hh)</text>
<rect x="169.70" y="560.50" width="109.80" height="25.50" fill="#fff" stroke="#888" stroke-width="0.8"/>
<rect x="171.30" y="562.30" width="20.50" height="10.50" fill="#bdea6c" stroke="#222" stroke-width="1"/>
<text x="0" y="0" font-size="9.35" font-weight="bold" text-anchor="start" fill="#000" transform="translate(194.80 570.92) scale(1 1.03)">Mucus penetration</text>
<rect x="171.30" y="574.70" width="20.50" height="10.00" fill="#00d188" stroke="#222" stroke-width="1"/>
<text x="0" y="0" font-size="9.35" font-weight="bold" text-anchor="start" fill="#000" transform="translate(194.80 583.07) scale(1 1.03)">Mucus retention</text>
<text x="0" y="0" font-size="10.1" text-anchor="middle" transform="translate(9.00 655.40) rotate(-90)" stroke="#000" stroke-width="0.25">P<tspan font-size="9.09" dy="2.02">app</tspan><tspan dy="-2.02"> value in isolated mucus(cm/s*10-6)</tspan></text>
<text x="0" y="0" font-size="10.2" text-anchor="middle" fill="#000" transform="translate(313.90 655.10) rotate(90) scale(1 0.95)" stroke="#000" stroke-width="0.25">Adsorption in isolated mucus (μg)</text>
</svg>
</body></html>
